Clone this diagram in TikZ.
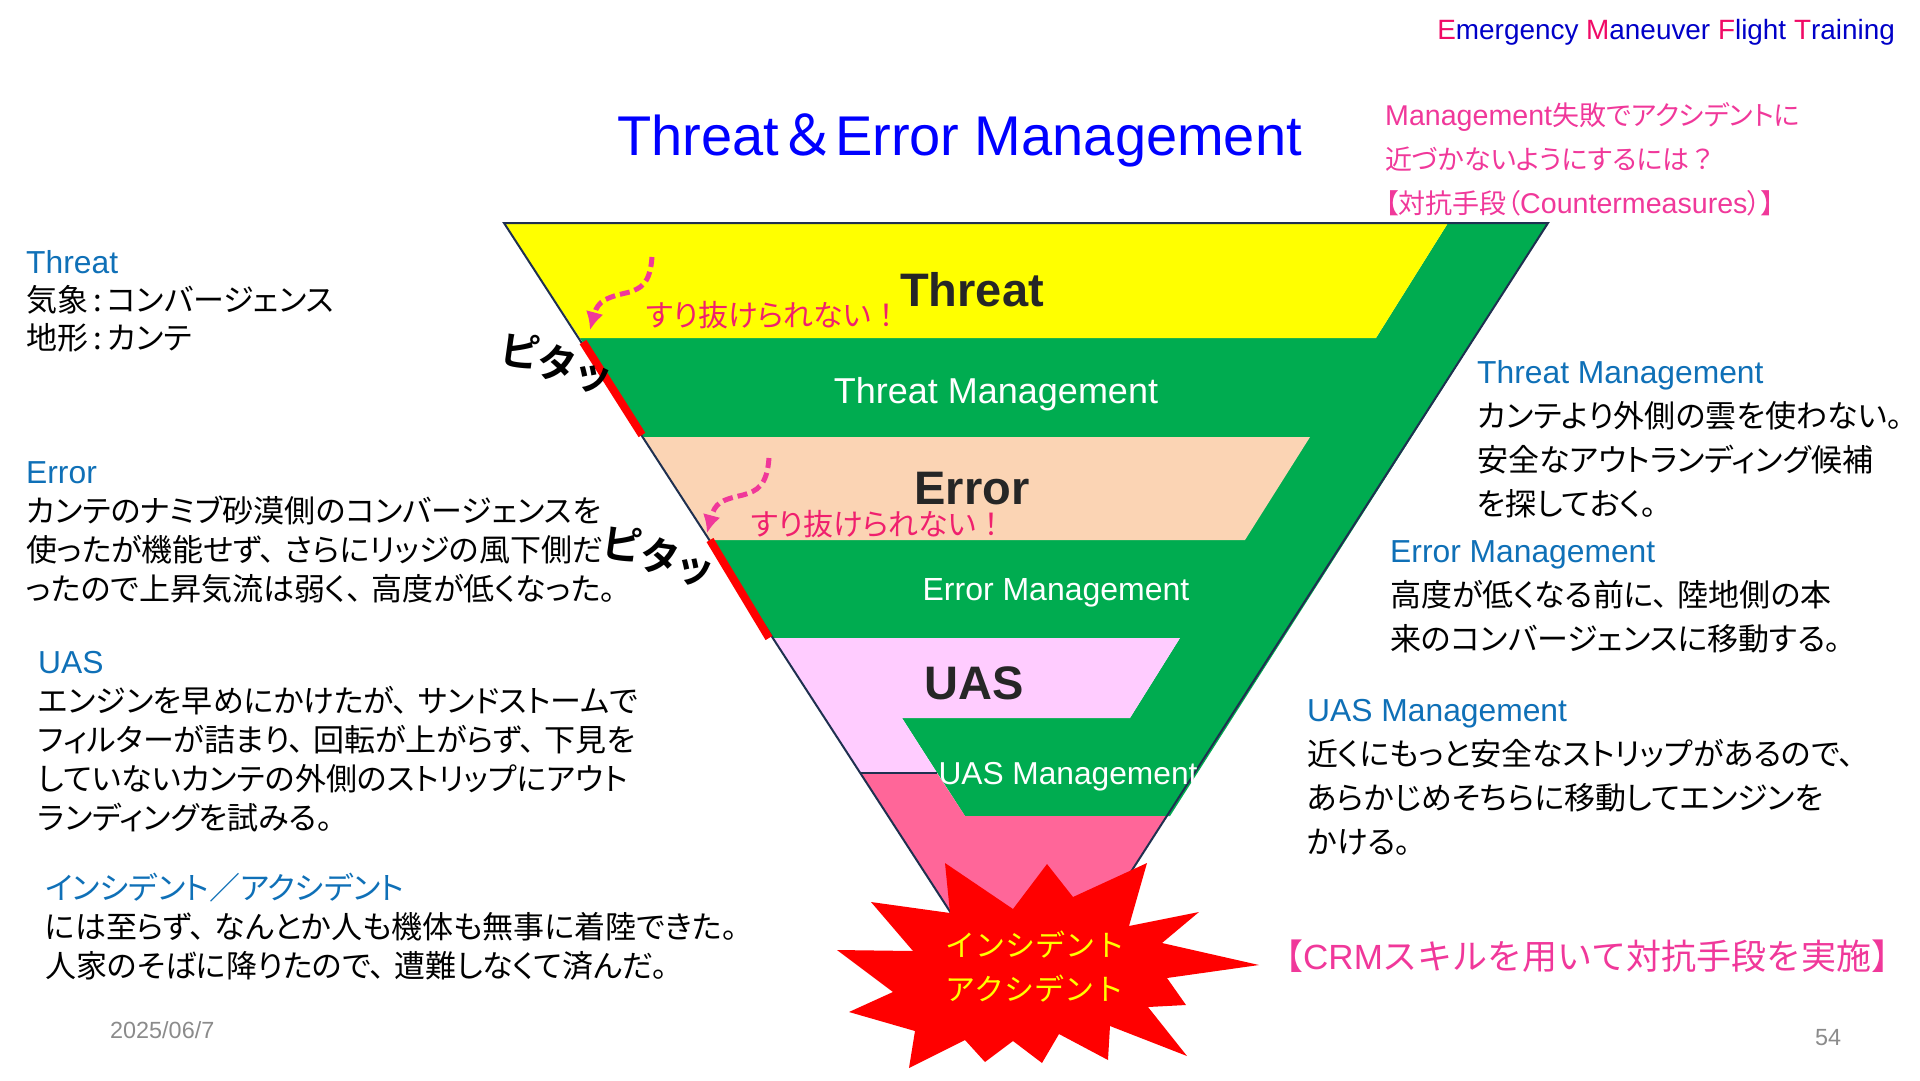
\documentclass[tikz,border=0pt]{standalone}
\usepackage{fontspec}
\usepackage{xcolor}
\usetikzlibrary{arrows.meta}
\setmainfont{Liberation Sans}
\newfontfamily\jafont{Noto Sans CJK JP}
\newfontfamily\japalt[RawFeature=+palt]{Noto Sans CJK JP}
\newfontfamily\jabold{Noto Sans CJK JP Bold}
\definecolor{headblue}{HTML}{0F70B7}
\definecolor{notepink}{HTML}{F0389A}
\definecolor{slipred}{HTML}{F0206E}
\definecolor{initialred}{HTML}{F00A66}
\definecolor{navyblue}{HTML}{0000C8}
\definecolor{bandyellow}{RGB}{255,255,0}
\definecolor{bandgreen}{HTML}{00AC50}
\definecolor{bandpeach}{HTML}{FBD4B4}
\definecolor{bandlilac}{HTML}{FFCCFF}
\definecolor{bandpink}{HTML}{FF6699}
\definecolor{burstred}{RGB}{255,0,0}
\definecolor{titleblue}{RGB}{0,0,255}
\definecolor{edgenavy}{HTML}{1F3050}
\definecolor{labeldark}{HTML}{262626}
\definecolor{pagegray}{HTML}{8B8B8B}
\newcommand{\head}[1]{{\rmfamily\fontsize{31.8}{38}\selectfont\textcolor{headblue}{#1}}}
\newcommand{\en}[1]{{\rmfamily #1}}
\newcommand{\ini}[1]{\textcolor{initialred}{#1}}
\newcommand{\tn}{、\hspace{0.3em}}
\newcommand{\pitta}{ピ\hspace{-1pt}\raisebox{-7pt}{タ}\hspace{-3pt}\raisebox{-12pt}{ッ}}
\tikzset{
  bodytext/.style={
    anchor=north west,
    align=left,
    inner sep=0pt,
    text=black,
    font=\japalt\fontsize{31}{39}\selectfont
  },
  widetext/.style={
    bodytext,
    font=\japalt\fontsize{31}{44}\selectfont
  },
  bandtitle/.style={
    inner sep=0pt,
    text=labeldark,
    font=\bfseries\fontsize{47}{50}\selectfont
  },
  bandlabel/.style={
    inner sep=0pt,
    text=white
  },
  sliptext/.style={
    anchor=west,
    inner sep=0pt,
    text=slipred,
    font=\japalt\fontsize{30}{30}\selectfont
  },
  sliparrow/.style={
    -{Latex[length=18pt,width=18pt]},
    line width=5pt,
    dash pattern=on 10pt off 5pt,
    draw=notepink
  },
  stuckedge/.style={draw=burstred, line width=8pt},
  stucktext/.style={
    inner sep=0pt,
    text=black,
    rotate=-8,
    font=\jabold\fontsize{40}{42}\selectfont
  },
  pagetext/.style={
    inner sep=0pt,
    text=pagegray,
    font=\fontsize{23.4}{26}\selectfont
  }
}
\begin{document}
\begin{tikzpicture}[x=1pt,y=-1pt]
\useasboundingbox (0,0) rectangle (1920,1080);

\fill[bandgreen] (580,338) -- (1376,338) -- (1448,223) -- (1548,223) -- (1170,816) -- (965,816) -- (902,718) -- (1130,718) -- (1180,638) -- (773,638) -- cycle;
\fill[bandyellow] (504,223) -- (1448,223) -- (1376,338) -- (580,338) -- cycle;
\fill[bandpeach] (643,437) -- (1310,437) -- (1245,540) -- (709,540) -- cycle;
\fill[bandlilac] (773,638) -- (1180,638) -- (1130,718) -- (902,718) -- (937,773) -- (860,773) -- cycle;
\fill[bandpink] (860,773) -- (937,773) -- (965,816) -- (1167,816) -- (1028,1032) -- cycle;
\draw[edgenavy, line width=2pt] (860,773) -- (937,773);
\draw[edgenavy, line width=2pt] (1028,1032) -- (504,223) -- (1548,223) -- (1028,1032);

\coordinate (stuckA) at (583,342);
\coordinate (stuckB) at (642,435);
\coordinate (stuckC) at (710,540);
\coordinate (stuckD) at (769,638);
\draw[stuckedge] (stuckA) -- (stuckB);
\draw[stuckedge] (stuckC) -- (stuckD);

\coordinate (slipA) at (652,257);
\coordinate (slipB) at (630,292);
\coordinate (slipC) at (590,330);
\coordinate (slipD) at (769,458);
\coordinate (slipE) at (743,495);
\coordinate (slipF) at (707,533);
\draw[sliparrow] (slipA) .. controls (650,285) and (640,288) .. (slipB) .. controls (608,297) and (598,300) .. (slipC);
\draw[sliparrow] (slipD) .. controls (767,486) and (757,491) .. (slipE) .. controls (721,500) and (715,503) .. (slipF);

\node[sliptext] (slipone) at (646,315) {すり抜けられない{\jafont ！}};
\node[sliptext] (sliptwo) at (751,524) {すり抜けられない{\jafont ！}};

\node[bandtitle] (threat) at (972,290) {Threat};
\node[bandlabel, font=\fontsize{36}{38}\selectfont] (threatman) at (996,394) {Threat Management};
\node[bandlabel, font=\fontsize{32}{34}\selectfont] (errorman) at (1056,593) {Error Management};
\node[bandtitle] (error) at (972,489) {Error};
\node[bandtitle] (uas) at (974,683) {UAS};
\node[bandlabel, font=\fontsize{31.7}{34}\selectfont] (uasman) at (1068,777) {UAS Management};

\node[stucktext] (stuckone) at (557,363) {\pitta};

\node[bodytext, font=\japalt\fontsize{31}{38}\selectfont] (threatnote) at (26,250) {\head{Threat}\\気象\,:\,コンバージェンス\\地形\,:\,カンテ};
\node[bodytext] (errornote) at (26,461) {\head{Error}\\カンテのナミブ砂漠側のコンバージェンスを\\使ったが機能せず\tn さらにリッジの風下側だ\\ったので上昇気流は弱く\tn 高度が低くなった。};
\node[bodytext] (uasnote) at (38,651) {\head{UAS}\\エンジンを早めにかけたが\tn サンドストームで\\フィルターが詰まり\tn 回転が上がらず\tn 下見を\\していないカンテの外側のストリップにアウト\\ランディングを試みる。};
\node[bodytext] (crashnote) at (45,873) {\textcolor{headblue}{インシデント／アクシデント}\\には至らず\tn なんとか人も機体も無事に着陸できた。\\人家のそばに降りたので\tn 遭難しなくて済んだ。};

\node[widetext] (threatplan) at (1477,360) {\head{Threat Management}\\カンテより外側の雲を使わない。\\安全なアウトランディング候補\\を探しておく。};
\node[widetext] (errorplan) at (1390,540) {\head{Error Management}\\高度が低くなる前に\tn 陸地側の本\\来のコンバージェンスに移動する。};
\node[widetext] (uasplan) at (1307,699) {\head{UAS Management}\\近くにもっと安全なストリップがあるので、\\あらかじめそちらに移動してエンジンを\\かける。};

\node[stucktext] (stucktwo) at (659,556) {\pitta};

\fill[burstred] (945,863) -- (1013,909) -- (1047,864) -- (1073,897) -- (1147,863) -- (1129,926) -- (1199,912) -- (1162,943) -- (1259,965) -- (1167,978) -- (1186,1005) -- (1148,1007) -- (1187,1056) -- (1110,1026) -- (1108,1060) -- (1059,1034) -- (1042,1063) -- (1013,1041) -- (985,1062) -- (965,1040) -- (909,1068) -- (915,1031) -- (849,1012) -- (893,992) -- (837,950) -- (913,951) -- (871,902) -- (950,913) -- cycle;
\node[inner sep=0pt, align=center, text=bandyellow, font=\jafont\fontsize{30}{44}\selectfont] (burst) at (1035,967) {インシデント\\アクシデント};

\node[inner sep=0pt, anchor=east, text=navyblue, font=\fontsize{27.9}{30}\selectfont] (course) at (1895,32) {\ini{E}mergency \ini{M}aneuver \ini{F}light \ini{T}raining};
\node[inner sep=0pt, anchor=west, text=titleblue, font=\fontsize{56}{60}\selectfont] (title) at (617,140) {Threat{\jafont ＆}Error Management};
\node[inner sep=0pt, anchor=north west, align=left, text=notepink, font=\japalt\fontsize{27}{44}\selectfont] (question) at (1385,102) {\en{\fontsize{28.6}{44}\selectfont Management}失敗でアクシデントに\\近づかないようにするには{\jafont ？}\\【対抗手段（\en{\fontsize{28.6}{44}\selectfont Countermeasures}）】};
\node[inner sep=0pt, anchor=west, text=notepink, font=\jafont\fontsize{35}{37}\selectfont] (apply) at (1268,956) {【\en{CRM}スキルを用いて対抗手段を実施】};

\node[pagetext, anchor=west] (date) at (110,1030) {2025/06/7};
\node[pagetext] (pageno) at (1828,1038) {54};
\end{tikzpicture}
\end{document}
